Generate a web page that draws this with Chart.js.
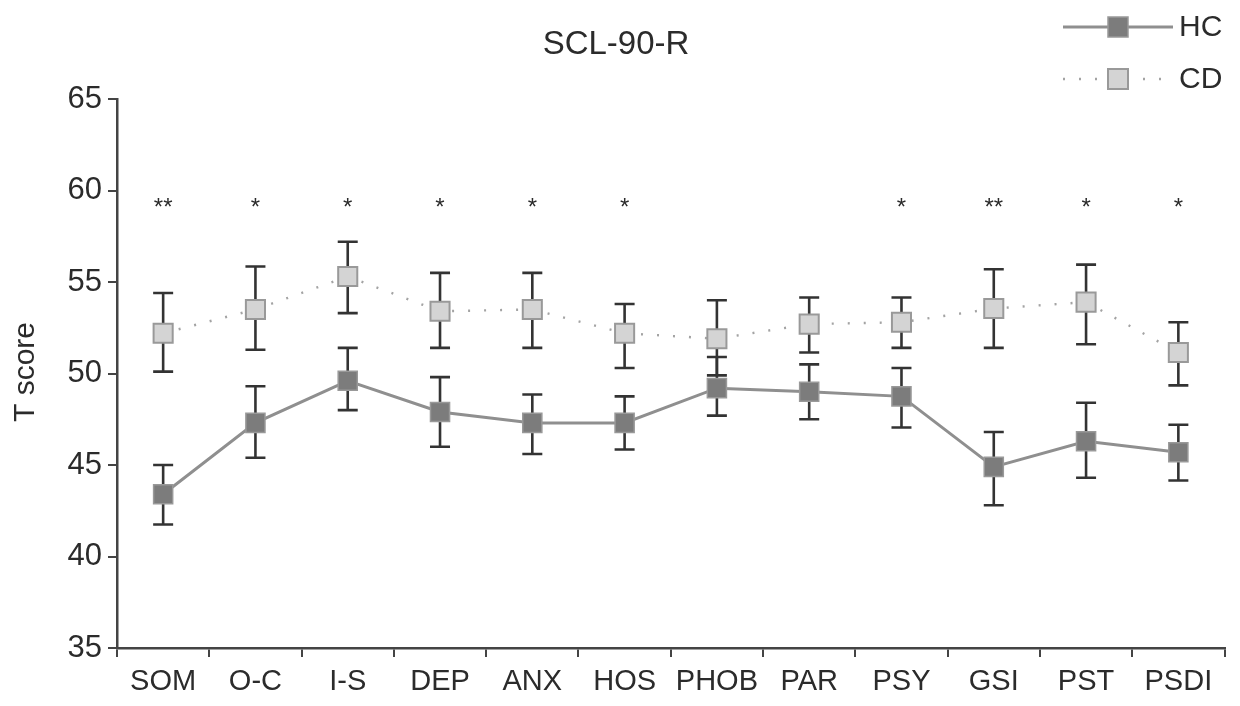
<!DOCTYPE html>
<html>
<head>
<meta charset="utf-8">
<script src="https://cdn.jsdelivr.net/npm/chart.js@4.4.0/dist/chart.umd.min.js"></script>
<style>
  html, body { margin: 0; padding: 0; background: #fff; }
  #wrap { width: 1240px; height: 706px; position: relative; }
</style>
</head>
<body>
<div id="wrap"><canvas id="scl"></canvas></div>
<script>
// ---- data ----
const categories = ['SOM', 'O-C', 'I-S', 'DEP', 'ANX', 'HOS', 'PHOB', 'PAR', 'PSY', 'GSI', 'PST', 'PSDI'];

const hcMean = [43.4, 47.3, 49.6, 47.9, 47.3, 47.3, 49.2, 49.0, 48.75, 44.9, 46.3, 45.7];
const hcHigh = [45.0, 49.3, 51.4, 49.8, 48.85, 48.75, 50.9, 50.5, 50.3, 46.8, 48.4, 47.2];
const hcLow  = [41.75, 45.4, 48.0, 46.0, 45.6, 45.85, 47.7, 47.5, 47.05, 42.8, 44.3, 44.15];

const cdMean = [52.2, 53.5, 55.3, 53.4, 53.5, 52.2, 51.9, 52.7, 52.8, 53.55, 53.9, 51.15];
const cdHigh = [54.4, 55.85, 57.2, 55.5, 55.5, 53.8, 54.0, 54.15, 54.15, 55.7, 55.95, 52.8];
const cdLow  = [50.1, 51.3, 53.3, 51.4, 51.4, 50.3, 49.9, 51.15, 51.4, 51.4, 51.6, 49.35];

const sig = ['**', '*', '*', '*', '*', '*', '', '', '*', '**', '*', '*'];

const yTicks = [35, 40, 45, 50, 55, 60, 65];

const FONT = '"Liberation Sans", Arial, sans-serif';
const INK = '#2b2b2b';
const SIG_Y = 59.4;

// error bars under the markers
const errorBars = {
  id: 'errorBars',
  beforeDatasetsDraw(chart) {
    const { ctx, scales: { x, y } } = chart;
    const sets = [[cdLow, cdHigh], [hcLow, hcHigh]];
    ctx.save();
    ctx.strokeStyle = '#333';
    ctx.lineWidth = 2.6;
    sets.forEach(([lo, hi]) => {
      lo.forEach((v, i) => {
        const px = x.getPixelForValue(i);
        const y1 = y.getPixelForValue(v), y2 = y.getPixelForValue(hi[i]);
        ctx.beginPath();
        ctx.moveTo(px, y1); ctx.lineTo(px, y2);
        ctx.moveTo(px - 10, y1); ctx.lineTo(px + 10, y1);
        ctx.moveTo(px - 10, y2); ctx.lineTo(px + 10, y2);
        ctx.stroke();
      });
    });
    ctx.restore();
  }
};

// title, y label, significance stars, legend
const decor = {
  id: 'decor',
  afterDraw(chart) {
    const { ctx, scales: { x, y } } = chart;
    ctx.save();
    ctx.fillStyle = INK;
    ctx.textAlign = 'center';
    ctx.textBaseline = 'middle';

    ctx.font = '33px ' + FONT;
    ctx.fillText('SCL-90-R', 616, 45);

    ctx.save();
    ctx.translate(26, 372);
    ctx.rotate(-Math.PI / 2);
    ctx.font = '30px ' + FONT;
    ctx.fillText('T score', 0, 0);
    ctx.restore();

    ctx.font = '24px ' + FONT;
    sig.forEach((s, i) => {
      if (s) ctx.fillText(s, x.getPixelForValue(i), y.getPixelForValue(SIG_Y) + 7);
    });

    // legend
    const rows = [
      { ds: chart.data.datasets[0], y: 27 },
      { ds: chart.data.datasets[1], y: 79 }
    ];
    rows.forEach(r => {
      ctx.save();
      ctx.strokeStyle = r.ds.borderColor;
      ctx.lineWidth = r.ds.borderWidth;
      ctx.setLineDash(r.ds.borderDash || []);
      ctx.beginPath();
      ctx.moveTo(1063, r.y); ctx.lineTo(1173, r.y);
      ctx.stroke();
      ctx.setLineDash([]);
      ctx.fillStyle = r.ds.pointBackgroundColor;
      ctx.strokeStyle = r.ds.pointBorderColor;
      ctx.lineWidth = r.ds.pointBorderWidth;
      ctx.fillRect(1108, r.y - 10, 20, 20);
      ctx.strokeRect(1108, r.y - 10, 20, 20);
      ctx.restore();
      ctx.textAlign = 'left';
      ctx.font = '30px ' + FONT;
      ctx.fillText(r.ds.label, 1179, r.y + 1);
    });
    ctx.restore();
  }
};

new Chart(document.getElementById('scl'), {
  type: 'line',
  data: {
    labels: categories,
    datasets: [
      {
        label: 'HC', data: hcMean,
        borderColor: '#8f8f8f', borderWidth: 3,
        pointStyle: 'rect', pointRadius: 13.5, pointHoverRadius: 13.5,
        pointBackgroundColor: '#7c7c7c', pointBorderColor: '#999999', pointBorderWidth: 1.5,
        tension: 0
      },
      {
        label: 'CD', data: cdMean,
        borderColor: '#a3a3a3', borderWidth: 2.4, borderDash: [2, 14],
        pointStyle: 'rect', pointRadius: 13.5, pointHoverRadius: 13.5,
        pointBackgroundColor: '#d4d4d4', pointBorderColor: '#999999', pointBorderWidth: 2,
        tension: 0
      }
    ]
  },
  options: {
    responsive: true,
    maintainAspectRatio: false,
    animation: false,
    layout: { padding: { top: 99, right: 13, bottom: 0, left: 0 } },
    plugins: { legend: { display: false }, title: { display: false }, tooltip: { enabled: false } },
    scales: {
      x: {
        offset: true,
        grid: { offset: true, drawOnChartArea: false, drawTicks: true, tickLength: 9, color: '#444', lineWidth: 2 },
        border: { display: true, color: '#444', width: 2.5 },
        ticks: { color: INK, font: { family: FONT, size: 29 }, padding: 8, maxRotation: 0, autoSkip: false },
        afterFit: s => { s.height = 58; }
      },
      y: {
        min: 35, max: 65,
        afterBuildTicks: s => { s.ticks = yTicks.map(v => ({ value: v })); },
        grid: { drawOnChartArea: false, drawTicks: true, tickLength: 9, color: '#444', lineWidth: 2 },
        border: { display: true, color: '#444', width: 2.5 },
        ticks: { color: INK, font: { family: FONT, size: 31 }, padding: 6 },
        afterFit: s => { s.width = 117; }
      }
    }
  },
  plugins: [errorBars, decor]
});
</script>
</body>
</html>
